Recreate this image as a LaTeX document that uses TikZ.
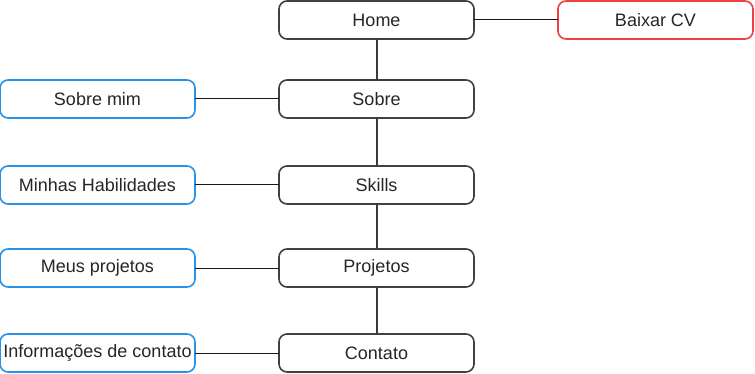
\documentclass[tikz,border=0pt]{standalone}
\usepackage{fontspec}
\setmainfont{Liberation Sans}
\usetikzlibrary{positioning}
\definecolor{pagegray}{HTML}{404040}
\definecolor{subblue}{HTML}{2692EA}
\definecolor{cvred}{HTML}{EE4040}
\tikzset{
    pagenode/.style = {rectangle, rounded corners=8pt, line width=1.6pt, draw=pagegray, align=center, fill=white, minimum width=195pt, minimum height=38pt, inner sep=0pt, outer sep=0pt, font=\fontsize{18}{20}\selectfont, text=black!85},
    subnode/.style = {pagenode, draw=subblue},
    cvnode/.style = {pagenode, draw=cvred},
    edgep/.style = {-, line width=2pt, pagegray!90!black},
    edges/.style = {-, line width=1pt, black!90},
}

\begin{document}
\begin{tikzpicture}[x=1pt,y=1pt]
  \useasboundingbox (0,0) rectangle (755,-374);
  % main pages
  \node[pagenode] (home) at (376.5,-20) {Home};
  \node[pagenode, below=41pt of home] (sobre) {Sobre};
  \node[pagenode, below=48pt of sobre] (skills) {Skills};
  \node[pagenode, below=45pt of skills] (projetos) {Projetos};
  \node[pagenode, below=47pt of projetos] (contato) {Contato};
  % sub pages
  \node[cvnode, right=84pt of home] (cv) {Baixar CV};
  \node[subnode, left=84pt of sobre] (sobremim) {Sobre mim};
  \node[subnode, left=84pt of skills] (habilidades) {Minhas Habilidades};
  \node[subnode, left=84pt of projetos] (meusprojetos) {Meus projetos};
  \node[subnode, left=84pt of contato] (infos) {Informações de contato};

  \draw[edgep] (home) -- (sobre);
  \draw[edgep] (sobre) -- (skills);
  \draw[edgep] (skills) -- (projetos);
  \draw[edgep] (projetos) -- (contato);

  \draw[edges] (home) -- (cv);
  \draw[edges] (sobremim) -- (sobre);
  \draw[edges] (habilidades) -- (skills);
  \draw[edges] (meusprojetos) -- (projetos);
  \draw[edges] (infos) -- (contato);
\end{tikzpicture}
\end{document}
